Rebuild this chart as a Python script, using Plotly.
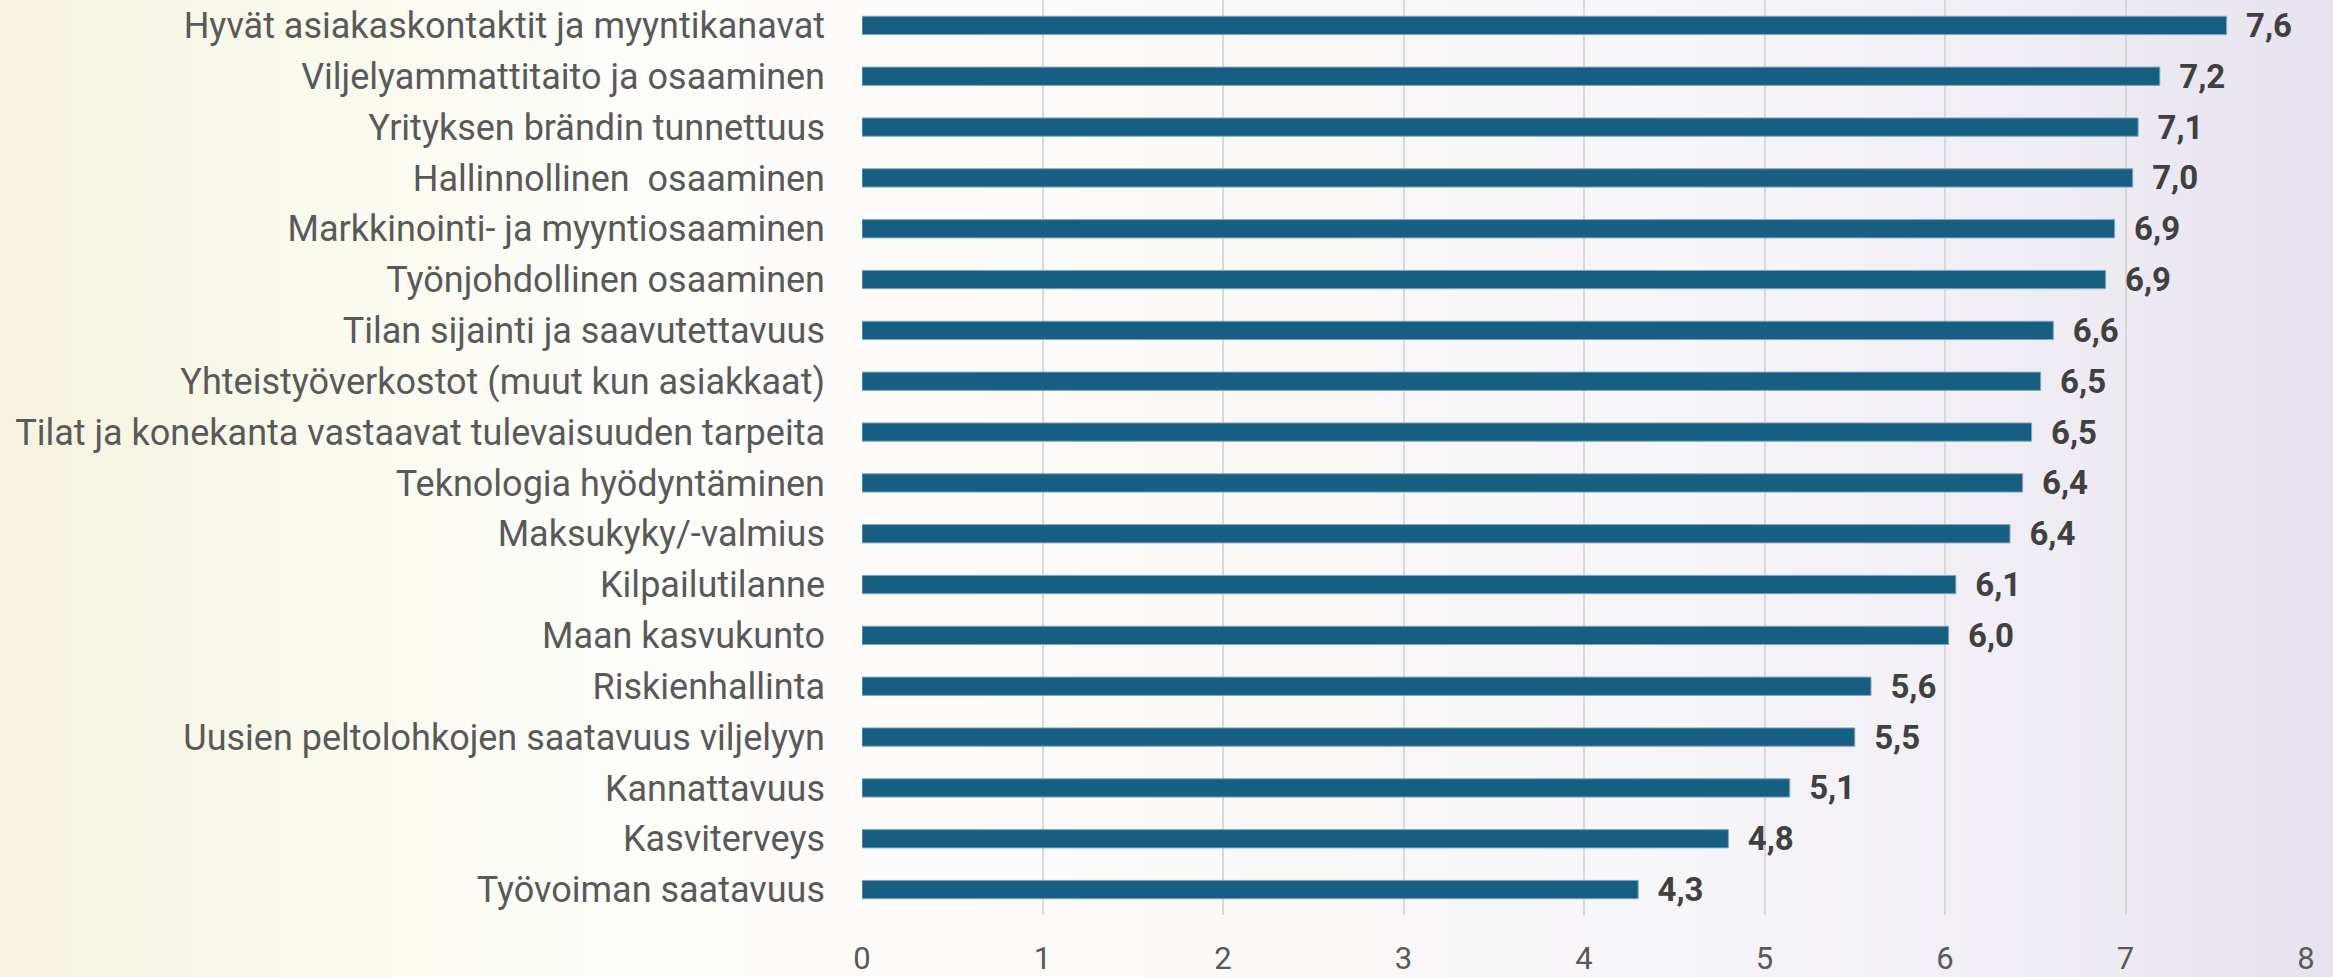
import plotly.graph_objects as go

categories = [
    "Hyvät asiakaskontaktit ja myyntikanavat",
    "Viljelyammattitaito ja osaaminen",
    "Yrityksen brändin tunnettuus",
    "Hallinnollinen  osaaminen",
    "Markkinointi- ja myyntiosaaminen",
    "Työnjohdollinen osaaminen",
    "Tilan sijainti ja saavutettavuus",
    "Yhteistyöverkostot (muut kun asiakkaat)",
    "Tilat ja konekanta vastaavat tulevaisuuden tarpeita",
    "Teknologia hyödyntäminen",
    "Maksukyky/-valmius",
    "Kilpailutilanne",
    "Maan kasvukunto",
    "Riskienhallinta",
    "Uusien peltolohkojen saatavuus viljelyyn",
    "Kannattavuus",
    "Kasviterveys",
    "Työvoiman saatavuus",
]
values = [7.56, 7.19, 7.07, 7.04, 6.94, 6.89, 6.60, 6.53, 6.48, 6.43, 6.36,
          6.06, 6.02, 5.59, 5.50, 5.14, 4.80, 4.30]
x_ticks = [0, 1, 2, 3, 4, 5, 6, 7, 8]

FONT = "Roboto, Arial, sans-serif"
W, H = 2333, 977
ML, MR, MT, MB = 862, 27, 0, 62
PW = W - ML - MR

fig = go.Figure()
fig.add_trace(go.Bar(
    y=categories, x=values, orientation="h",
    marker=dict(color="#175f82", line=dict(color="#7fa7bd", width=1)),
    texttemplate="\u00a0\u00a0%{x:.1f}", textposition="outside", constraintext="none",
    textfont=dict(family=FONT, size=33, color="#404040", weight="bold"),
    cliponaxis=False, width=0.36,
))

# background gradient stripes (styling only)
def lerp(c1, c2, t):
    return tuple(round(a + (b - a) * t) for a, b in zip(c1, c2))

stops = [(0.0, (245, 243, 222)), (0.12, (249, 249, 236)), (0.25, (253, 253, 249)),
         (0.4, (253, 252, 251)), (0.55, (250, 248, 247)), (0.7, (247, 246, 248)),
         (0.85, (241, 239, 245)), (1.0, (231, 227, 238))]
N = 100
shapes = []
for i in range(N):
    t = (i + 0.5) / N
    c = stops[-1][1]
    for j in range(len(stops) - 1):
        if stops[j][0] <= t <= stops[j + 1][0]:
            tt = (t - stops[j][0]) / (stops[j + 1][0] - stops[j][0])
            c = lerp(stops[j][1], stops[j + 1][1], tt)
            break
    px0 = i / N * W
    px1 = (i + 1) / N * W + 2
    shapes.append(dict(type="rect", xref="paper", yref="paper",
                       x0=(px0 - ML) / PW, x1=(px1 - ML) / PW, y0=-1, y1=2,
                       fillcolor="rgb(%d,%d,%d)" % c, line=dict(width=0), layer="below"))

fig.update_layout(
    width=W, height=H,
    margin=dict(l=ML, r=MR, t=MT, b=MB),
    paper_bgcolor="#fbfbf6", plot_bgcolor="rgba(0,0,0,0)",
    separators=",.",
    showlegend=False,
    shapes=shapes,
    font=dict(family=FONT, color="#595959"),
    xaxis=dict(range=[0, 8], tickvals=x_ticks, showgrid=True, gridcolor="#d9d9d9", gridwidth=2,
               zeroline=False, showline=False, tickfont=dict(size=31, color="#595959"),
               ticks="", ticklabelstandoff=22, automargin=False),
    yaxis=dict(autorange="reversed", showgrid=False, tickfont=dict(size=36, color="#595959"),
               ticks="", ticklabelstandoff=36, showline=False, automargin=False),
)

fig.write_html("out.html", config={"displayModeBar": False},
               post_script="document.body.style.margin='0px';")
